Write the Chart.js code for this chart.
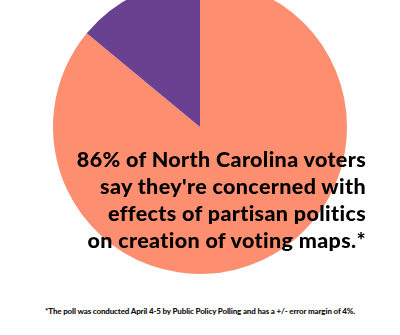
<!DOCTYPE html>
<html>
<head>
<meta charset="utf-8">
<script src="https://cdn.jsdelivr.net/npm/chart.js@4"></script>
<style>
  html, body { margin: 0; padding: 0; background: #fff; }
  #wrap { position: relative; width: 400px; height: 335px; overflow: hidden; }
  #pie { position: absolute; left: 53px; top: -20px; width: 294px; height: 294px; }
  #headline {
    position: absolute; right: 34px; top: 146px;
    font-family: Lato, sans-serif; font-weight: 900; font-size: 21.5px;
    letter-spacing: 0.35px;
    line-height: 27px; text-align: right; color: #000; white-space: nowrap;
  }
  #note {
    position: absolute; left: 0; width: 400px; top: 306px;
    font-family: Lato, sans-serif; font-weight: 900; font-size: 8px;
    letter-spacing: -0.15px;
    text-align: center; color: #111; white-space: nowrap;
  }
</style>
</head>
<body>
<div id="wrap">
  <div id="pie"><canvas id="pie-chart"></canvas></div>
  <div id="headline">86% of North Carolina voters<br>say they're concerned with<br>effects of partisan politics<br>on creation of voting maps.*</div>
  <div id="note">*The poll was conducted April 4-5 by Public Policy Polling and has a +/- error margin of 4%.</div>
</div>
<script>
  // poll answers
  var labels = ["Concerned", "Not concerned"];
  var shares = [86, 14];
  var colors = ["#fd8f70", "#6a4090"];

  var ctx = document.getElementById("pie-chart").getContext("2d");
  var myChart = new Chart(ctx, {
    type: "pie",
    data: {
      labels: labels,
      datasets: [
        {
          data: shares,
          backgroundColor: colors,
          borderWidth: 0,
        },
      ],
    },
    options: {
      responsive: true,
      maintainAspectRatio: false,
      animation: false,
      layout: { padding: 0 },
      plugins: {
        legend: { display: false },
        tooltip: { enabled: false },
      },
    },
  });
</script>
</body>
</html>
